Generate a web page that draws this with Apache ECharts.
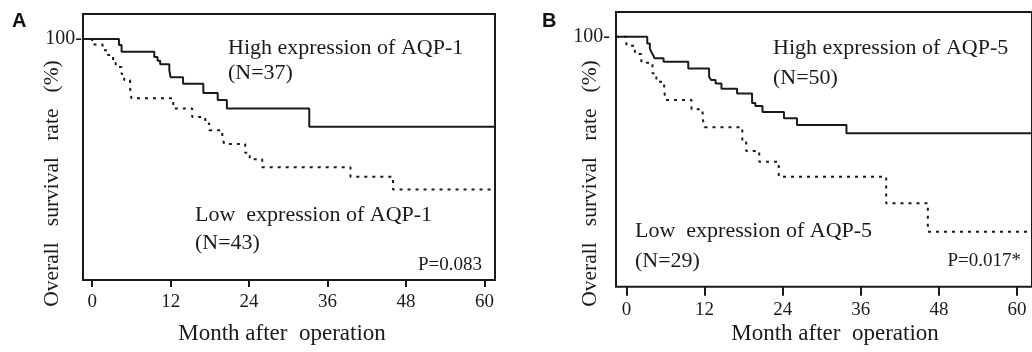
<!DOCTYPE html>
<html>
<head>
<meta charset="utf-8">
<script src="https://cdn.jsdelivr.net/npm/echarts@6/dist/echarts.min.js"></script>
<style>
html,body{margin:0;padding:0;background:#fff;}
#chart{width:1032px;height:352px;}
</style>
</head>
<body>
<div id="chart"></div>
<script>
// ---- data ----
const xTicks = [0, 12, 24, 36, 48, 60];
const yTicks = [100];

const highA_month = [0, 4.1, 4.5, 9.5, 10.0, 10.4, 11.8, 12.0, 13.9, 17.0, 19.2, 20.6, 33.2];
const highA_surv  = [100, 97.5, 94.7, 92.6, 91.0, 89.5, 87.1, 84.1, 81.5, 77.6, 74.7, 71.2, 63.6];

const lowA_month = [0, 1.6, 2.4, 3.2, 3.6, 4.5, 4.9, 5.8, 6.0, 12.4, 15.3, 17.3, 17.9, 19.9, 20.2, 23.4, 24.1, 26.0, 39.5, 46.0];
const lowA_surv  = [97.7, 95.4, 93.4, 91.3, 88.4, 85.5, 83.0, 79.7, 75.4, 71.2, 67.6, 65.0, 62.2, 59.2, 56.4, 52.8, 50.1, 46.8, 42.9, 37.6];

const highB_month = [0, 3.2, 3.6, 3.8, 4.1, 4.3, 5.7, 9.5, 12.7, 13.0, 13.7, 14.6, 17.0, 19.3, 19.8, 20.9, 24.2, 26.2, 33.8];
const highB_surv  = [100, 97.3, 95.3, 94.0, 92.7, 91.4, 90.0, 87.3, 84.0, 82.7, 81.3, 79.2, 77.3, 73.5, 72.3, 69.9, 67.4, 64.7, 61.4];

const lowB_month = [0, 1.3, 2.3, 4.0, 4.6, 5.8, 6.0, 10.0, 11.7, 12.0, 17.8, 18.4, 20.4, 23.4, 39.9, 46.3];
const lowB_surv  = [96.4, 93.1, 89.6, 85.4, 82.0, 78.7, 74.7, 71.0, 67.4, 63.8, 58.4, 54.3, 50.0, 44.0, 33.4, 22.0];

const panelLabels = ['A', 'B'];
const highTexts = ['High expression of AQP-1', 'High expression of AQP-5'];
const highN = ['(N=37)', '(N=50)'];
const lowTexts = ['Low  expression of AQP-1', 'Low  expression of AQP-5'];
const lowN = ['(N=43)', '(N=29)'];
const pTexts = ['P=0.083', 'P=0.017*'];
const xTitle = 'Month after  operation';
const yTitle = 'Overall   survival   rate   (%)';

// ---- layout ----
const SERIF = '"Liberation Serif","Times New Roman",serif';
const INK = '#1a1a1a';
const axA = {xMin: -1.4, xMax: 61.6, yMax: 110.4};
const axB = {xMin: -1.6, xMax: 62.3, yMax: 109.9};

function km(months, surv, xMin, xMax) {
  const d = [[xMin, 100]];
  months.forEach((m, i) => d.push([m, surv[i]]));
  d.push([xMax, surv[surv.length - 1]]);
  return d;
}

function xAxisCfg(idx, ax, offset, tickLen, margin) {
  return {
    type: 'value', gridIndex: idx, min: ax.xMin, max: ax.xMax, position: 'bottom', offset: offset,
    axisLine: {show: false},
    splitLine: {show: false},
    axisTick: {show: true, customValues: xTicks, length: tickLen, lineStyle: {color: INK, width: 2}},
    axisLabel: {show: true, customValues: xTicks, margin: margin, color: INK, fontFamily: SERIF, fontSize: 19}
  };
}
function yAxisCfg(idx, ax, margin) {
  return {
    type: 'value', gridIndex: idx, min: 0, max: ax.yMax,
    axisLine: {show: false}, splitLine: {show: false}, axisTick: {show: false},
    axisLabel: {show: true, customValues: yTicks, margin: margin, color: INK, fontFamily: SERIF, fontSize: 20,
      formatter: v => v + '-'}
  };
}
function line(idx, data, dashed) {
  return {
    type: 'line', xAxisIndex: idx, yAxisIndex: idx, step: 'end', symbol: 'none', data: data,
    lineStyle: dashed ? {color: INK, width: 2, type: [3, 5]} : {color: INK, width: 2, type: 'solid'},
    animation: false, silent: true
  };
}
function txt(x, y, text, size, align, opts) {
  return Object.assign({
    type: 'text', x: x, y: y, silent: true,
    style: {text: text, fontFamily: SERIF, fontSize: size, fill: INK, align: align || 'left', verticalAlign: 'middle'}
  }, opts || {});
}

const chart = echarts.init(document.getElementById('chart'), null, {renderer: 'canvas'});
chart.setOption({
  animation: false,
  backgroundColor: '#fff',
  grid: [
    {left: 83, top: 14, width: 412, height: 266, show: true, borderColor: INK, borderWidth: 2, backgroundColor: 'transparent'},
    {left: 616, top: 12, width: 419, height: 274.7, show: true, borderColor: INK, borderWidth: 2, backgroundColor: 'transparent'}
  ],
  xAxis: [xAxisCfg(0, axA, 5, 7, 8), xAxisCfg(1, axB, 1.5, 9, 12)],
  yAxis: [yAxisCfg(0, axA, 1), yAxisCfg(1, axB, 6)],
  series: [
    line(0, km(highA_month, highA_surv, axA.xMin, axA.xMax), false),
    line(0, km(lowA_month, lowA_surv, axA.xMin, axA.xMax), true),
    line(1, km(highB_month, highB_surv, axB.xMin, axB.xMax), false),
    line(1, km(lowB_month, lowB_surv, axB.xMin, axB.xMax), true)
  ],
  graphic: [
    {type: 'text', x: 12, y: 21, silent: true, style: {text: panelLabels[0], fontFamily: '"Liberation Sans",Arial,sans-serif', fontWeight: 'bold', fontSize: 20, fill: '#111', verticalAlign: 'middle'}},
    {type: 'text', x: 542, y: 21, silent: true, style: {text: panelLabels[1], fontFamily: '"Liberation Sans",Arial,sans-serif', fontWeight: 'bold', fontSize: 20, fill: '#111', verticalAlign: 'middle'}},
    txt(52, 183.5, yTitle, 21.5, 'center', {rotation: Math.PI / 2}),
    txt(590, 183.5, yTitle, 21.5, 'center', {rotation: Math.PI / 2}),
    txt(228, 48, highTexts[0], 22),
    txt(228, 73, highN[0], 22),
    txt(195, 215, lowTexts[0], 22),
    txt(195, 243, lowN[0], 22),
    txt(482, 265, pTexts[0], 19, 'right'),
    txt(773, 48, highTexts[1], 22),
    txt(773, 78, highN[1], 22),
    txt(635, 231.5, lowTexts[1], 22),
    txt(635, 261, lowN[1], 22),
    txt(1021, 261.5, pTexts[1], 19, 'right'),
    txt(282, 334, xTitle, 23, 'center'),
    txt(835, 334, xTitle, 23, 'center')
  ]
});
</script>
</body>
</html>
